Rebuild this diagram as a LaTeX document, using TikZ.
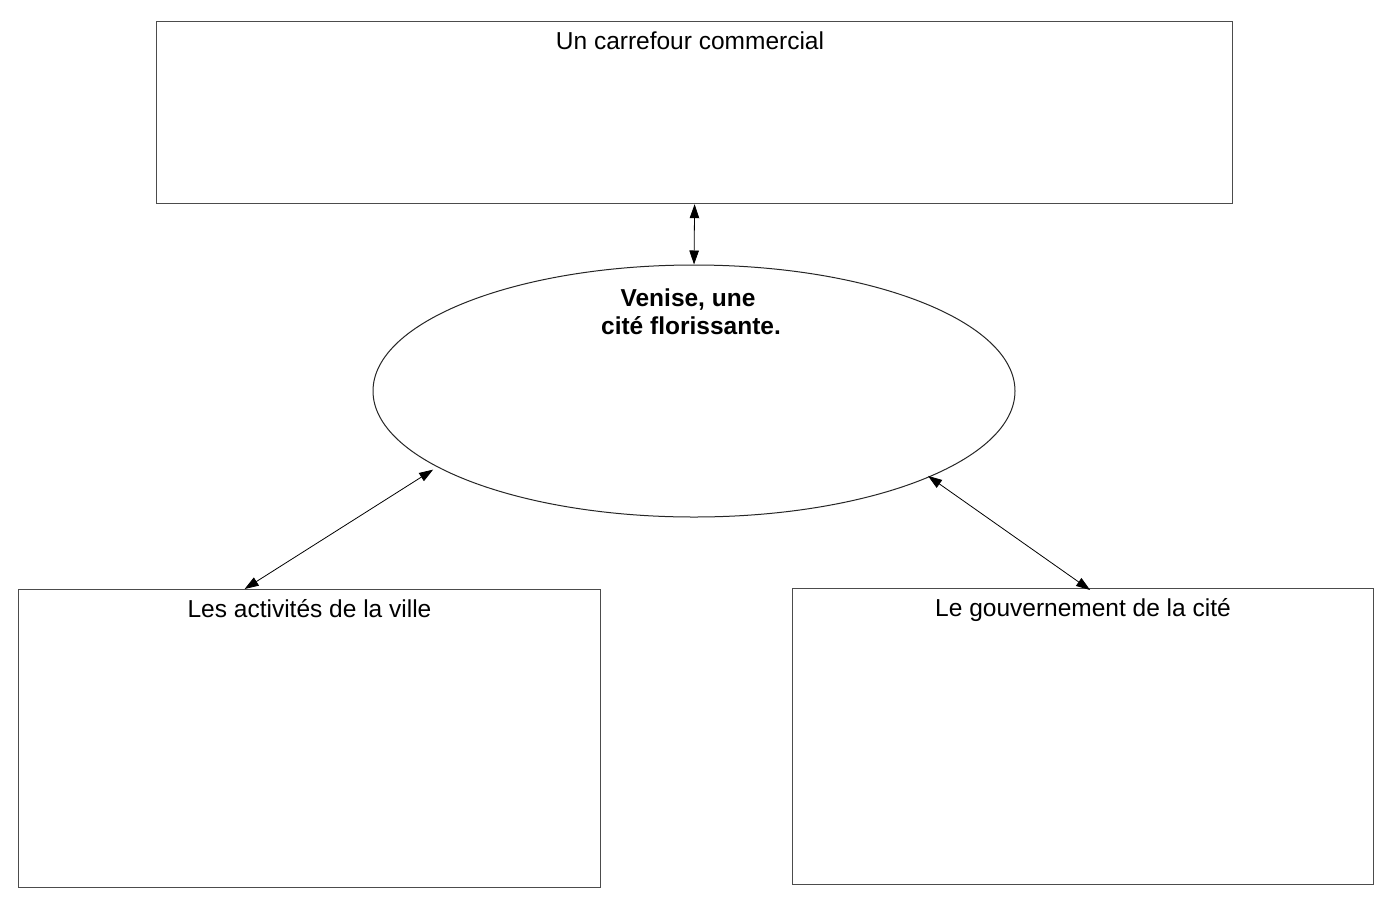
\documentclass[tikz,border=0pt]{standalone}
\usepackage{fontspec}
\setmainfont{Liberation Sans}
\usetikzlibrary{shapes.geometric,arrows.meta}
\begin{document}
\begin{tikzpicture}[x=1pt,y=-1pt,
  box/.style={draw=black!70,line width=1.2pt,rectangle,inner sep=0pt,anchor=north west},
  lbl/.style={anchor=base,inner sep=0pt,font=\fontsize{24.5}{28}\selectfont},
  conn/.style={draw=black,line width=0.8pt,{Triangle[length=14pt,width=9.5pt]}-{Triangle[length=14pt,width=9.5pt]}}]
\useasboundingbox (0,0) rectangle (1391,900);
\fill[white] (0,0) rectangle (1391,900);
\node[box,minimum width=1076pt,minimum height=182pt] (tbox) at (156,21) {};
\node[box,minimum width=582pt,minimum height=298pt] (lbox) at (18,589) {};
\node[box,minimum width=581pt,minimum height=296pt] (rbox) at (792,588) {};
\node[draw=black!85,line width=1pt,ellipse,minimum width=642pt,minimum height=252pt,inner sep=0pt] (ell) at (694,391) {};
\node[lbl] (ttxt) at (690,49) {Un carrefour commercial};
\node[lbl] (ltxt) at (309.5,617) {Les activités de la ville};
\node[lbl] (rtxt) at (1083,616) {Le gouvernement de la cité};
\node[lbl,font=\bfseries\fontsize{24.5}{28}\selectfont] (e1) at (688,306) {Venise, une};
\node[lbl,font=\bfseries\fontsize{24.5}{28}\selectfont] (e2) at (691,334) {cité florissante.};
\draw[conn] (tbox.south) -- (ell.north);
\draw[conn] ([xshift=-65pt]lbox.north) -- ([xshift=-7pt,yshift=-1pt]ell.197);
\draw[conn] ([xshift=7pt,yshift=-2pt]rbox.north) -- ([xshift=-2pt,yshift=1pt]ell.-20);
\end{tikzpicture}
\end{document}
